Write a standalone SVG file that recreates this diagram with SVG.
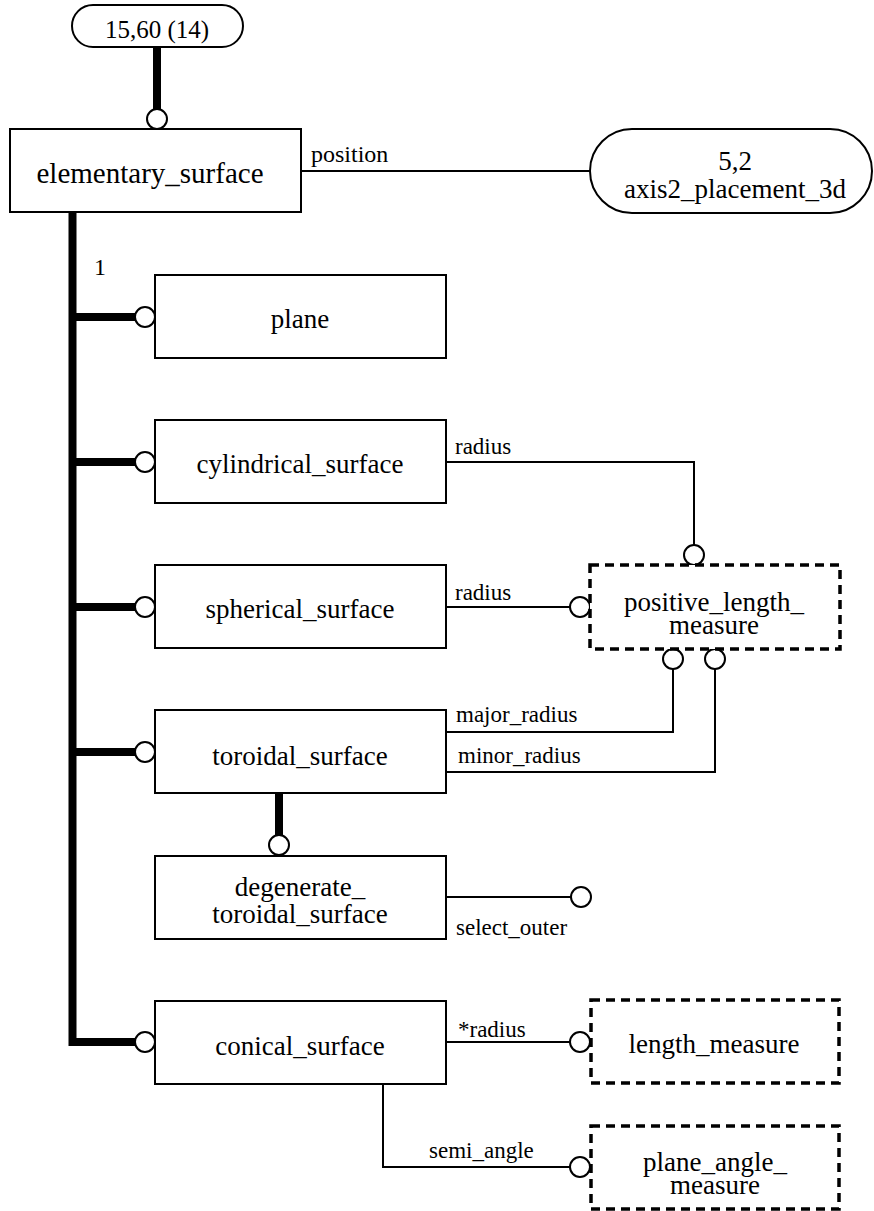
<svg xmlns="http://www.w3.org/2000/svg" width="874" height="1211" viewBox="0 0 874 1211">
<style>
.box{fill:#fff;stroke:#000;stroke-width:2}
.dbox{fill:#fff;stroke:#000;stroke-width:3.5;stroke-dasharray:9 6}
.thin{fill:none;stroke:#000;stroke-width:2}
.thick{fill:none;stroke:#000;stroke-width:8}
.circ{fill:#fff;stroke:#000;stroke-width:2}
text{font-family:"Liberation Serif","Times New Roman",serif;fill:#000}
.t{font-size:27px;text-anchor:middle}
.l{font-size:23px}
</style>
<rect width="874" height="1211" fill="#fff"/>
<g id="connectors">
<path class="thick" d="M157,47 V110"/>
<path class="thick" d="M72.5,212 V1042 H136"/>
<path class="thick" d="M72.5,317 H136"/>
<path class="thick" d="M72.5,462 H136"/>
<path class="thick" d="M72.5,607 H136"/>
<path class="thick" d="M72.5,752 H136"/>
<path class="thick" d="M279,793 V836"/>
<path class="thin" d="M301,171 H590"/>
<path class="thin" d="M446,462 H694 V545"/>
<path class="thin" d="M446,607 H570"/>
<path class="thin" d="M446,732 H673 V669"/>
<path class="thin" d="M446,772 H715 V669"/>
<path class="thin" d="M446,897 H571"/>
<path class="thin" d="M446,1042 H570"/>
<path class="thin" d="M383,1084 V1167 H570"/>
<circle class="circ" cx="157" cy="119" r="10"/>
<circle class="circ" cx="145" cy="317" r="10"/>
<circle class="circ" cx="145" cy="462" r="10"/>
<circle class="circ" cx="145" cy="607" r="10"/>
<circle class="circ" cx="145" cy="752" r="10"/>
<circle class="circ" cx="145" cy="1042" r="10"/>
<circle class="circ" cx="279" cy="845" r="10"/>
<circle class="circ" cx="694" cy="555" r="10"/>
<circle class="circ" cx="580" cy="607" r="10"/>
<circle class="circ" cx="673" cy="659" r="10"/>
<circle class="circ" cx="715" cy="659" r="10"/>
<circle class="circ" cx="581" cy="897" r="10"/>
<circle class="circ" cx="580" cy="1042" r="10"/>
<circle class="circ" cx="580" cy="1167" r="10"/>
<text class="l" x="311" y="162" style="font-size:24px">position</text>
<text class="l" x="94" y="275" style="font-size:24px">1</text>
<text class="l" x="455" y="454">radius</text>
<text class="l" x="455" y="600">radius</text>
<text class="l" x="456" y="722">major_radius</text>
<text class="l" x="458" y="763">minor_radius</text>
<text class="l" x="456" y="935">select_outer</text>
<text class="l" x="458" y="1037">*radius</text>
<text class="l" x="429" y="1158">semi_angle</text>
</g>
<g id="ref_15_60">
<rect class="box" x="72" y="5" width="171" height="42" rx="21"/>
<text class="t" x="157" y="38" style="font-size:25px">15,60 (14)</text>
</g>
<g id="elementary_surface">
<rect class="box" x="10" y="129" width="291" height="83"/>
<text class="t" x="150" y="183" style="font-size:29px">elementary_surface</text>
</g>
<g id="axis2_placement_3d">
<rect class="box" x="590" y="129" width="282" height="84" rx="42"/>
<text class="t" x="735" y="170">5,2</text>
<text class="t" x="735" y="198">axis2_placement_3d</text>
</g>
<g id="plane">
<rect class="box" x="155" y="275" width="291" height="83"/>
<text class="t" x="300" y="328">plane</text>
</g>
<g id="cylindrical_surface">
<rect class="box" x="155" y="420" width="291" height="83"/>
<text class="t" x="300" y="473">cylindrical_surface</text>
</g>
<g id="spherical_surface">
<rect class="box" x="155" y="565" width="291" height="83"/>
<text class="t" x="300" y="618">spherical_surface</text>
</g>
<g id="toroidal_surface">
<rect class="box" x="155" y="710" width="291" height="83"/>
<text class="t" x="300" y="765">toroidal_surface</text>
</g>
<g id="degenerate_toroidal_surface">
<rect class="box" x="155" y="856" width="291" height="83"/>
<text class="t" x="300" y="896">degenerate_</text>
<text class="t" x="300" y="923">toroidal_surface</text>
</g>
<g id="conical_surface">
<rect class="box" x="155" y="1001" width="291" height="83"/>
<text class="t" x="300" y="1055">conical_surface</text>
</g>
<g id="positive_length_measure">
<rect class="dbox" x="590" y="565" width="250" height="84"/>
<text class="t" x="714" y="611">positive_length_</text>
<text class="t" x="714" y="634">measure</text>
</g>
<g id="length_measure">
<rect class="dbox" x="591" y="1000" width="248" height="83"/>
<text class="t" x="714" y="1053">length_measure</text>
</g>
<g id="plane_angle_measure">
<rect class="dbox" x="591" y="1126" width="248" height="83"/>
<text class="t" x="715" y="1171">plane_angle_</text>
<text class="t" x="715" y="1194">measure</text>
</g>
</svg>
